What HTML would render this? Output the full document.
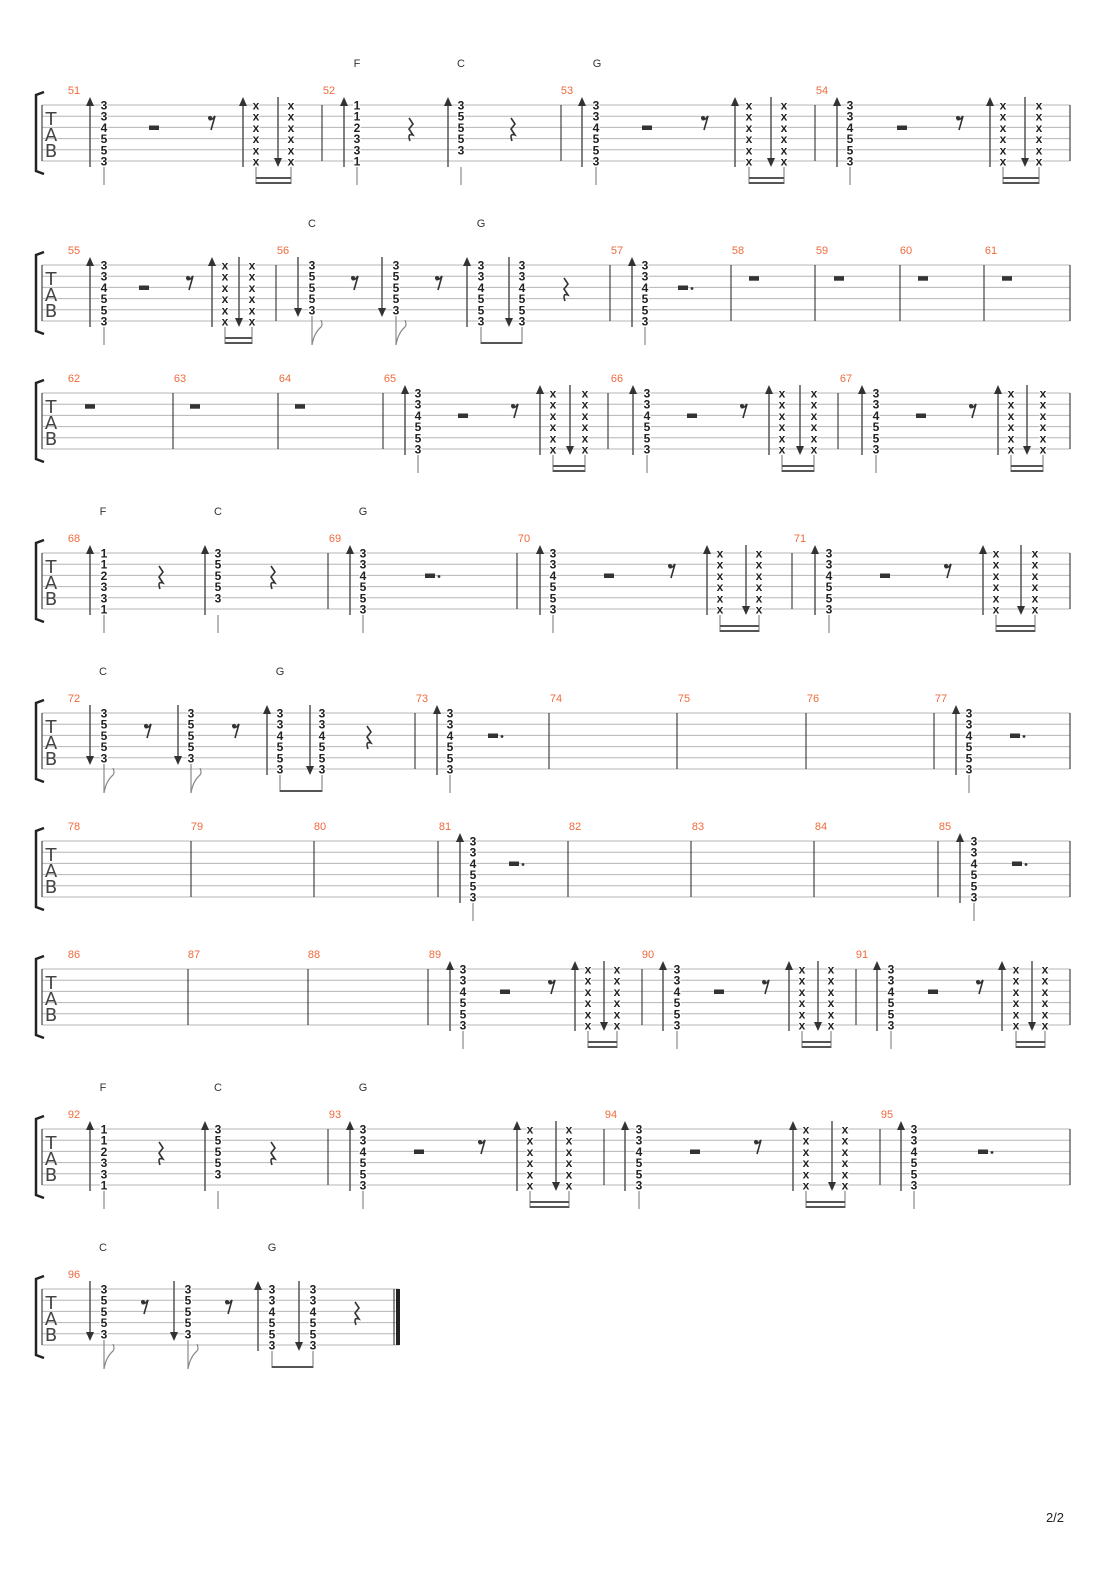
<!DOCTYPE html>
<html><head><meta charset="utf-8"><style>
html,body{margin:0;padding:0;background:#fff}
svg{display:block}
.d{font:bold 12px "Liberation Sans",sans-serif;fill:#222;text-anchor:middle;stroke:#fff;stroke-width:2.5px;paint-order:stroke}
.n{font:11px "Liberation Sans",sans-serif;fill:#ef6a3c;text-anchor:middle}
.c{font:11px "Liberation Sans",sans-serif;fill:#333;text-anchor:middle}
.t{font:18px "DejaVu Sans",sans-serif;fill:#444;text-anchor:middle}
.a{stroke:#555;stroke-width:1.5;fill:none}
.h{fill:#333}
.s{stroke:#888;stroke-width:1.2;fill:none}
.bm{stroke:#555;stroke-width:2;fill:none}
.ln{stroke:#b5b5b5;stroke-width:1;fill:none}
.bar{stroke:#222;stroke-width:1;fill:none}
.r{fill:#333}
.rs{stroke:#333;stroke-width:1.6;fill:none}
.br{stroke:#222;stroke-width:2.5;fill:none}
</style></head><body>
<svg width="1110" height="1570" viewBox="0 0 1110 1570" xmlns="http://www.w3.org/2000/svg">
<defs>
<g id="staff"><path class="ln" d="M42 0H1070M42 11.2H1070M42 22.4H1070M42 33.6H1070M42 44.8H1070M42 56H1070"/><path class="br" d="M44 -13L36 -10V66L44 69"/><path class="bar" d="M42 0V56M1070 0V56"/></g>
<g id="staffs"><path class="ln" d="M42 0H399M42 11.2H399M42 22.4H399M42 33.6H399M42 44.8H399M42 56H399"/><path class="br" d="M44 -13L36 -10V66L44 69"/><path class="bar" d="M42 0V56M394 0V56"/><path d="M396 0H400V56H396z" fill="#222"/></g>
<g id="up"><path class="a" d="M0 62V0"/><path class="h" d="M-4 1H4L0 -8z"/></g>
<g id="dn"><path class="a" d="M0 -8V60"/><path class="h" d="M-4 53H4L0 62z"/></g>
<g id="dnc"><path class="a" d="M0 -8V50"/><path class="h" d="M-4 43H4L0 52z"/></g>
<g id="stem"><path class="s" d="M0 62V80"/></g>
<g id="flag"><path class="s" d="M0 51V80M0 80Q2 68 9 62Q11 60 9 55"/></g>
<g id="half"><rect class="r" x="-5" y="20.5" width="10" height="4.5"/></g>
<g id="dhalf"><rect class="r" x="-5" y="20.5" width="10" height="4.5"/><circle class="r" cx="9" cy="23.5" r="1.4"/></g>
<g id="whole"><rect class="r" x="-5" y="11.2" width="10" height="4.5"/></g>
<g id="r8"><circle class="r" cx="-2" cy="13" r="2"/><path class="rs" d="M-3 14.5Q0 15.5 3 11L-1 25"/></g>
<g id="rq"><path class="rs" d="M-1 13L3 19L-1 24L3 30Q-3 28 0 36" stroke-width="2"/></g>
</defs>

<!-- SYSTEM 1 -->
<g transform="translate(0,105)">
<use href="#staff"/>
<text class="t" x="51" y="20">T</text><text class="t" x="51" y="36">A</text><text class="t" x="51" y="52">B</text>
<path class="bar" d="M322 0V56M561 0V56M815 0V56"/>
<text class="n" x="74" y="-11">51</text><text class="n" x="329" y="-11">52</text><text class="n" x="567" y="-11">53</text><text class="n" x="822" y="-11">54</text>
<text class="c" x="357" y="-38">F</text><text class="c" x="461" y="-38">C</text><text class="c" x="597" y="-38">G</text>
<use href="#up" x="90"/><text class="d" y="4.5"><tspan x="104">3</tspan><tspan x="104" dy="11.2">3</tspan><tspan x="104" dy="11.2">4</tspan><tspan x="104" dy="11.2">5</tspan><tspan x="104" dy="11.2">5</tspan><tspan x="104" dy="11.2">3</tspan></text><use href="#stem" x="104"/>
<use href="#half" x="154"/><use href="#r8" x="212"/>
<use href="#up" x="243"/><text class="d" y="4.5"><tspan x="256">x</tspan><tspan x="256" dy="11.2">x</tspan><tspan x="256" dy="11.2">x</tspan><tspan x="256" dy="11.2">x</tspan><tspan x="256" dy="11.2">x</tspan><tspan x="256" dy="11.2">x</tspan></text>
<use href="#dn" x="278"/><text class="d" y="4.5"><tspan x="291">x</tspan><tspan x="291" dy="11.2">x</tspan><tspan x="291" dy="11.2">x</tspan><tspan x="291" dy="11.2">x</tspan><tspan x="291" dy="11.2">x</tspan><tspan x="291" dy="11.2">x</tspan></text>
<path class="s" d="M256 62V79M291 62V79"/><path class="bm" d="M256 73H291M256 78H291"/>
<use href="#up" x="344"/><text class="d" y="4.5"><tspan x="357">1</tspan><tspan x="357" dy="11.2">1</tspan><tspan x="357" dy="11.2">2</tspan><tspan x="357" dy="11.2">3</tspan><tspan x="357" dy="11.2">3</tspan><tspan x="357" dy="11.2">1</tspan></text><use href="#stem" x="357"/>
<use href="#rq" x="410"/>
<use href="#up" x="448"/><text class="d" y="4.5"><tspan x="461">3</tspan><tspan x="461" dy="11.2">5</tspan><tspan x="461" dy="11.2">5</tspan><tspan x="461" dy="11.2">5</tspan><tspan x="461" dy="11.2">3</tspan></text><use href="#stem" x="461"/>
<use href="#rq" x="512"/>
<use href="#up" x="582"/><text class="d" y="4.5"><tspan x="596">3</tspan><tspan x="596" dy="11.2">3</tspan><tspan x="596" dy="11.2">4</tspan><tspan x="596" dy="11.2">5</tspan><tspan x="596" dy="11.2">5</tspan><tspan x="596" dy="11.2">3</tspan></text><use href="#stem" x="596"/>
<use href="#half" x="647"/><use href="#r8" x="705"/>
<use href="#up" x="735"/><text class="d" y="4.5"><tspan x="749">x</tspan><tspan x="749" dy="11.2">x</tspan><tspan x="749" dy="11.2">x</tspan><tspan x="749" dy="11.2">x</tspan><tspan x="749" dy="11.2">x</tspan><tspan x="749" dy="11.2">x</tspan></text>
<use href="#dn" x="771"/><text class="d" y="4.5"><tspan x="784">x</tspan><tspan x="784" dy="11.2">x</tspan><tspan x="784" dy="11.2">x</tspan><tspan x="784" dy="11.2">x</tspan><tspan x="784" dy="11.2">x</tspan><tspan x="784" dy="11.2">x</tspan></text>
<path class="s" d="M749 62V79M784 62V79"/><path class="bm" d="M749 73H784M749 78H784"/>
<use href="#up" x="837"/><text class="d" y="4.5"><tspan x="850">3</tspan><tspan x="850" dy="11.2">3</tspan><tspan x="850" dy="11.2">4</tspan><tspan x="850" dy="11.2">5</tspan><tspan x="850" dy="11.2">5</tspan><tspan x="850" dy="11.2">3</tspan></text><use href="#stem" x="850"/>
<use href="#half" x="902"/><use href="#r8" x="960"/>
<use href="#up" x="990"/><text class="d" y="4.5"><tspan x="1003">x</tspan><tspan x="1003" dy="11.2">x</tspan><tspan x="1003" dy="11.2">x</tspan><tspan x="1003" dy="11.2">x</tspan><tspan x="1003" dy="11.2">x</tspan><tspan x="1003" dy="11.2">x</tspan></text>
<use href="#dn" x="1025"/><text class="d" y="4.5"><tspan x="1039">x</tspan><tspan x="1039" dy="11.2">x</tspan><tspan x="1039" dy="11.2">x</tspan><tspan x="1039" dy="11.2">x</tspan><tspan x="1039" dy="11.2">x</tspan><tspan x="1039" dy="11.2">x</tspan></text>
<path class="s" d="M1003 62V79M1039 62V79"/><path class="bm" d="M1003 73H1039M1003 78H1039"/>
</g>

<!-- SYSTEM 2 -->
<g transform="translate(0,265)">
<use href="#staff"/>
<text class="t" x="51" y="20">T</text><text class="t" x="51" y="36">A</text><text class="t" x="51" y="52">B</text>
<path class="bar" d="M276 0V56M610 0V56M731 0V56M815 0V56M900 0V56M984 0V56"/>
<text class="n" x="74" y="-11">55</text><text class="n" x="283" y="-11">56</text><text class="n" x="617" y="-11">57</text><text class="n" x="738" y="-11">58</text><text class="n" x="822" y="-11">59</text><text class="n" x="906" y="-11">60</text><text class="n" x="991" y="-11">61</text>
<text class="c" x="312" y="-38">C</text><text class="c" x="481" y="-38">G</text>
<use href="#up" x="90"/><text class="d" y="4.5"><tspan x="104">3</tspan><tspan x="104" dy="11.2">3</tspan><tspan x="104" dy="11.2">4</tspan><tspan x="104" dy="11.2">5</tspan><tspan x="104" dy="11.2">5</tspan><tspan x="104" dy="11.2">3</tspan></text><use href="#stem" x="104"/>
<use href="#half" x="144"/><use href="#r8" x="190"/>
<use href="#up" x="212"/><text class="d" y="4.5"><tspan x="225">x</tspan><tspan x="225" dy="11.2">x</tspan><tspan x="225" dy="11.2">x</tspan><tspan x="225" dy="11.2">x</tspan><tspan x="225" dy="11.2">x</tspan><tspan x="225" dy="11.2">x</tspan></text>
<use href="#dn" x="239"/><text class="d" y="4.5"><tspan x="252">x</tspan><tspan x="252" dy="11.2">x</tspan><tspan x="252" dy="11.2">x</tspan><tspan x="252" dy="11.2">x</tspan><tspan x="252" dy="11.2">x</tspan><tspan x="252" dy="11.2">x</tspan></text>
<path class="s" d="M225 62V79M252 62V79"/><path class="bm" d="M225 73H252M225 78H252"/>
<use href="#dnc" x="298"/><text class="d" y="4.5"><tspan x="312">3</tspan><tspan x="312" dy="11.2">5</tspan><tspan x="312" dy="11.2">5</tspan><tspan x="312" dy="11.2">5</tspan><tspan x="312" dy="11.2">3</tspan></text><use href="#flag" x="312"/>
<use href="#r8" x="355"/>
<use href="#dnc" x="382"/><text class="d" y="4.5"><tspan x="396">3</tspan><tspan x="396" dy="11.2">5</tspan><tspan x="396" dy="11.2">5</tspan><tspan x="396" dy="11.2">5</tspan><tspan x="396" dy="11.2">3</tspan></text><use href="#flag" x="396"/>
<use href="#r8" x="439"/>
<use href="#up" x="467"/><text class="d" y="4.5"><tspan x="481">3</tspan><tspan x="481" dy="11.2">3</tspan><tspan x="481" dy="11.2">4</tspan><tspan x="481" dy="11.2">5</tspan><tspan x="481" dy="11.2">5</tspan><tspan x="481" dy="11.2">3</tspan></text>
<use href="#dn" x="509"/><text class="d" y="4.5"><tspan x="522">3</tspan><tspan x="522" dy="11.2">3</tspan><tspan x="522" dy="11.2">4</tspan><tspan x="522" dy="11.2">5</tspan><tspan x="522" dy="11.2">5</tspan><tspan x="522" dy="11.2">3</tspan></text>
<path class="s" d="M481 62V79M522 62V79"/><path class="bm" d="M481 78H522"/>
<use href="#rq" x="565"/>
<use href="#up" x="632"/><text class="d" y="4.5"><tspan x="645">3</tspan><tspan x="645" dy="11.2">3</tspan><tspan x="645" dy="11.2">4</tspan><tspan x="645" dy="11.2">5</tspan><tspan x="645" dy="11.2">5</tspan><tspan x="645" dy="11.2">3</tspan></text><use href="#stem" x="645"/>
<use href="#dhalf" x="683"/>
<use href="#whole" x="754"/><use href="#whole" x="839"/><use href="#whole" x="923"/><use href="#whole" x="1007"/>
</g>

<!-- SYSTEM 3 -->
<g transform="translate(0,393)">
<use href="#staff"/>
<text class="t" x="51" y="20">T</text><text class="t" x="51" y="36">A</text><text class="t" x="51" y="52">B</text>
<path class="bar" d="M173 0V56M278 0V56M383 0V56M608 0V56M838 0V56"/>
<text class="n" x="74" y="-11">62</text><text class="n" x="180" y="-11">63</text><text class="n" x="285" y="-11">64</text><text class="n" x="390" y="-11">65</text><text class="n" x="617" y="-11">66</text><text class="n" x="846" y="-11">67</text>
<use href="#whole" x="90"/><use href="#whole" x="195"/><use href="#whole" x="300"/>
<use href="#up" x="405"/><text class="d" y="4.5"><tspan x="418">3</tspan><tspan x="418" dy="11.2">3</tspan><tspan x="418" dy="11.2">4</tspan><tspan x="418" dy="11.2">5</tspan><tspan x="418" dy="11.2">5</tspan><tspan x="418" dy="11.2">3</tspan></text><use href="#stem" x="418"/>
<use href="#half" x="463"/><use href="#r8" x="515"/>
<use href="#up" x="540"/><text class="d" y="4.5"><tspan x="553">x</tspan><tspan x="553" dy="11.2">x</tspan><tspan x="553" dy="11.2">x</tspan><tspan x="553" dy="11.2">x</tspan><tspan x="553" dy="11.2">x</tspan><tspan x="553" dy="11.2">x</tspan></text>
<use href="#dn" x="570"/><text class="d" y="4.5"><tspan x="585">x</tspan><tspan x="585" dy="11.2">x</tspan><tspan x="585" dy="11.2">x</tspan><tspan x="585" dy="11.2">x</tspan><tspan x="585" dy="11.2">x</tspan><tspan x="585" dy="11.2">x</tspan></text>
<path class="s" d="M553 62V79M585 62V79"/><path class="bm" d="M553 73H585M553 78H585"/>
<use href="#up" x="633"/><text class="d" y="4.5"><tspan x="647">3</tspan><tspan x="647" dy="11.2">3</tspan><tspan x="647" dy="11.2">4</tspan><tspan x="647" dy="11.2">5</tspan><tspan x="647" dy="11.2">5</tspan><tspan x="647" dy="11.2">3</tspan></text><use href="#stem" x="647"/>
<use href="#half" x="692"/><use href="#r8" x="744"/>
<use href="#up" x="769"/><text class="d" y="4.5"><tspan x="782">x</tspan><tspan x="782" dy="11.2">x</tspan><tspan x="782" dy="11.2">x</tspan><tspan x="782" dy="11.2">x</tspan><tspan x="782" dy="11.2">x</tspan><tspan x="782" dy="11.2">x</tspan></text>
<use href="#dn" x="800"/><text class="d" y="4.5"><tspan x="814">x</tspan><tspan x="814" dy="11.2">x</tspan><tspan x="814" dy="11.2">x</tspan><tspan x="814" dy="11.2">x</tspan><tspan x="814" dy="11.2">x</tspan><tspan x="814" dy="11.2">x</tspan></text>
<path class="s" d="M782 62V79M814 62V79"/><path class="bm" d="M782 73H814M782 78H814"/>
<use href="#up" x="862"/><text class="d" y="4.5"><tspan x="876">3</tspan><tspan x="876" dy="11.2">3</tspan><tspan x="876" dy="11.2">4</tspan><tspan x="876" dy="11.2">5</tspan><tspan x="876" dy="11.2">5</tspan><tspan x="876" dy="11.2">3</tspan></text><use href="#stem" x="876"/>
<use href="#half" x="921"/><use href="#r8" x="973"/>
<use href="#up" x="998"/><text class="d" y="4.5"><tspan x="1011">x</tspan><tspan x="1011" dy="11.2">x</tspan><tspan x="1011" dy="11.2">x</tspan><tspan x="1011" dy="11.2">x</tspan><tspan x="1011" dy="11.2">x</tspan><tspan x="1011" dy="11.2">x</tspan></text>
<use href="#dn" x="1027"/><text class="d" y="4.5"><tspan x="1043">x</tspan><tspan x="1043" dy="11.2">x</tspan><tspan x="1043" dy="11.2">x</tspan><tspan x="1043" dy="11.2">x</tspan><tspan x="1043" dy="11.2">x</tspan><tspan x="1043" dy="11.2">x</tspan></text>
<path class="s" d="M1011 62V79M1043 62V79"/><path class="bm" d="M1011 73H1043M1011 78H1043"/>
</g>

<!-- SYSTEM 4 -->
<g transform="translate(0,553)">
<use href="#staff"/>
<text class="t" x="51" y="20">T</text><text class="t" x="51" y="36">A</text><text class="t" x="51" y="52">B</text>
<path class="bar" d="M328 0V56M517 0V56M792 0V56"/>
<text class="n" x="74" y="-11">68</text><text class="n" x="335" y="-11">69</text><text class="n" x="524" y="-11">70</text><text class="n" x="800" y="-11">71</text>
<text class="c" x="103" y="-38">F</text><text class="c" x="218" y="-38">C</text><text class="c" x="363" y="-38">G</text>
<use href="#up" x="90"/><text class="d" y="4.5"><tspan x="104">1</tspan><tspan x="104" dy="11.2">1</tspan><tspan x="104" dy="11.2">2</tspan><tspan x="104" dy="11.2">3</tspan><tspan x="104" dy="11.2">3</tspan><tspan x="104" dy="11.2">1</tspan></text><use href="#stem" x="104"/>
<use href="#rq" x="160"/>
<use href="#up" x="205"/><text class="d" y="4.5"><tspan x="218">3</tspan><tspan x="218" dy="11.2">5</tspan><tspan x="218" dy="11.2">5</tspan><tspan x="218" dy="11.2">5</tspan><tspan x="218" dy="11.2">3</tspan></text><use href="#stem" x="218"/>
<use href="#rq" x="272"/>
<use href="#up" x="350"/><text class="d" y="4.5"><tspan x="363">3</tspan><tspan x="363" dy="11.2">3</tspan><tspan x="363" dy="11.2">4</tspan><tspan x="363" dy="11.2">5</tspan><tspan x="363" dy="11.2">5</tspan><tspan x="363" dy="11.2">3</tspan></text><use href="#stem" x="363"/>
<use href="#dhalf" x="430"/>
<use href="#up" x="540"/><text class="d" y="4.5"><tspan x="553">3</tspan><tspan x="553" dy="11.2">3</tspan><tspan x="553" dy="11.2">4</tspan><tspan x="553" dy="11.2">5</tspan><tspan x="553" dy="11.2">5</tspan><tspan x="553" dy="11.2">3</tspan></text><use href="#stem" x="553"/>
<use href="#half" x="609"/><use href="#r8" x="672"/>
<use href="#up" x="707"/><text class="d" y="4.5"><tspan x="720">x</tspan><tspan x="720" dy="11.2">x</tspan><tspan x="720" dy="11.2">x</tspan><tspan x="720" dy="11.2">x</tspan><tspan x="720" dy="11.2">x</tspan><tspan x="720" dy="11.2">x</tspan></text>
<use href="#dn" x="746"/><text class="d" y="4.5"><tspan x="759">x</tspan><tspan x="759" dy="11.2">x</tspan><tspan x="759" dy="11.2">x</tspan><tspan x="759" dy="11.2">x</tspan><tspan x="759" dy="11.2">x</tspan><tspan x="759" dy="11.2">x</tspan></text>
<path class="s" d="M720 62V79M759 62V79"/><path class="bm" d="M720 73H759M720 78H759"/>
<use href="#up" x="815"/><text class="d" y="4.5"><tspan x="829">3</tspan><tspan x="829" dy="11.2">3</tspan><tspan x="829" dy="11.2">4</tspan><tspan x="829" dy="11.2">5</tspan><tspan x="829" dy="11.2">5</tspan><tspan x="829" dy="11.2">3</tspan></text><use href="#stem" x="829"/>
<use href="#half" x="885"/><use href="#r8" x="948"/>
<use href="#up" x="983"/><text class="d" y="4.5"><tspan x="996">x</tspan><tspan x="996" dy="11.2">x</tspan><tspan x="996" dy="11.2">x</tspan><tspan x="996" dy="11.2">x</tspan><tspan x="996" dy="11.2">x</tspan><tspan x="996" dy="11.2">x</tspan></text>
<use href="#dn" x="1021"/><text class="d" y="4.5"><tspan x="1035">x</tspan><tspan x="1035" dy="11.2">x</tspan><tspan x="1035" dy="11.2">x</tspan><tspan x="1035" dy="11.2">x</tspan><tspan x="1035" dy="11.2">x</tspan><tspan x="1035" dy="11.2">x</tspan></text>
<path class="s" d="M996 62V79M1035 62V79"/><path class="bm" d="M996 73H1035M996 78H1035"/>
</g>

<!-- SYSTEM 5 -->
<g transform="translate(0,713)">
<use href="#staff"/>
<text class="t" x="51" y="20">T</text><text class="t" x="51" y="36">A</text><text class="t" x="51" y="52">B</text>
<path class="bar" d="M415 0V56M549 0V56M677 0V56M806 0V56M934 0V56"/>
<text class="n" x="74" y="-11">72</text><text class="n" x="422" y="-11">73</text><text class="n" x="556" y="-11">74</text><text class="n" x="684" y="-11">75</text><text class="n" x="813" y="-11">76</text><text class="n" x="941" y="-11">77</text>
<text class="c" x="103" y="-38">C</text><text class="c" x="280" y="-38">G</text>
<use href="#dnc" x="90"/><text class="d" y="4.5"><tspan x="104">3</tspan><tspan x="104" dy="11.2">5</tspan><tspan x="104" dy="11.2">5</tspan><tspan x="104" dy="11.2">5</tspan><tspan x="104" dy="11.2">3</tspan></text><use href="#flag" x="104"/>
<use href="#r8" x="148"/>
<use href="#dnc" x="178"/><text class="d" y="4.5"><tspan x="191">3</tspan><tspan x="191" dy="11.2">5</tspan><tspan x="191" dy="11.2">5</tspan><tspan x="191" dy="11.2">5</tspan><tspan x="191" dy="11.2">3</tspan></text><use href="#flag" x="191"/>
<use href="#r8" x="236"/>
<use href="#up" x="267"/><text class="d" y="4.5"><tspan x="280">3</tspan><tspan x="280" dy="11.2">3</tspan><tspan x="280" dy="11.2">4</tspan><tspan x="280" dy="11.2">5</tspan><tspan x="280" dy="11.2">5</tspan><tspan x="280" dy="11.2">3</tspan></text>
<use href="#dn" x="310"/><text class="d" y="4.5"><tspan x="322">3</tspan><tspan x="322" dy="11.2">3</tspan><tspan x="322" dy="11.2">4</tspan><tspan x="322" dy="11.2">5</tspan><tspan x="322" dy="11.2">5</tspan><tspan x="322" dy="11.2">3</tspan></text>
<path class="s" d="M280 62V79M322 62V79"/><path class="bm" d="M280 78H322"/>
<use href="#rq" x="368"/>
<use href="#up" x="437"/><text class="d" y="4.5"><tspan x="450">3</tspan><tspan x="450" dy="11.2">3</tspan><tspan x="450" dy="11.2">4</tspan><tspan x="450" dy="11.2">5</tspan><tspan x="450" dy="11.2">5</tspan><tspan x="450" dy="11.2">3</tspan></text><use href="#stem" x="450"/>
<use href="#dhalf" x="493"/>
<use href="#up" x="956"/><text class="d" y="4.5"><tspan x="969">3</tspan><tspan x="969" dy="11.2">3</tspan><tspan x="969" dy="11.2">4</tspan><tspan x="969" dy="11.2">5</tspan><tspan x="969" dy="11.2">5</tspan><tspan x="969" dy="11.2">3</tspan></text><use href="#stem" x="969"/>
<use href="#dhalf" x="1015"/>
</g>

<!-- SYSTEM 6 -->
<g transform="translate(0,841)">
<use href="#staff"/>
<text class="t" x="51" y="20">T</text><text class="t" x="51" y="36">A</text><text class="t" x="51" y="52">B</text>
<path class="bar" d="M191 0V56M314 0V56M438 0V56M568 0V56M691 0V56M814 0V56M938 0V56"/>
<text class="n" x="74" y="-11">78</text><text class="n" x="197" y="-11">79</text><text class="n" x="320" y="-11">80</text><text class="n" x="445" y="-11">81</text><text class="n" x="575" y="-11">82</text><text class="n" x="698" y="-11">83</text><text class="n" x="821" y="-11">84</text><text class="n" x="945" y="-11">85</text>
<use href="#up" x="460"/><text class="d" y="4.5"><tspan x="473">3</tspan><tspan x="473" dy="11.2">3</tspan><tspan x="473" dy="11.2">4</tspan><tspan x="473" dy="11.2">5</tspan><tspan x="473" dy="11.2">5</tspan><tspan x="473" dy="11.2">3</tspan></text><use href="#stem" x="473"/>
<use href="#dhalf" x="514"/>
<use href="#up" x="960"/><text class="d" y="4.5"><tspan x="974">3</tspan><tspan x="974" dy="11.2">3</tspan><tspan x="974" dy="11.2">4</tspan><tspan x="974" dy="11.2">5</tspan><tspan x="974" dy="11.2">5</tspan><tspan x="974" dy="11.2">3</tspan></text><use href="#stem" x="974"/>
<use href="#dhalf" x="1017"/>
</g>

<!-- SYSTEM 7 -->
<g transform="translate(0,969)">
<use href="#staff"/>
<text class="t" x="51" y="20">T</text><text class="t" x="51" y="36">A</text><text class="t" x="51" y="52">B</text>
<path class="bar" d="M188 0V56M308 0V56M428 0V56M642 0V56M856 0V56"/>
<text class="n" x="74" y="-11">86</text><text class="n" x="194" y="-11">87</text><text class="n" x="314" y="-11">88</text><text class="n" x="435" y="-11">89</text><text class="n" x="648" y="-11">90</text><text class="n" x="862" y="-11">91</text>
<use href="#up" x="450"/><text class="d" y="4.5"><tspan x="463">3</tspan><tspan x="463" dy="11.2">3</tspan><tspan x="463" dy="11.2">4</tspan><tspan x="463" dy="11.2">5</tspan><tspan x="463" dy="11.2">5</tspan><tspan x="463" dy="11.2">3</tspan></text><use href="#stem" x="463"/>
<use href="#half" x="505"/><use href="#r8" x="552"/>
<use href="#up" x="575"/><text class="d" y="4.5"><tspan x="588">x</tspan><tspan x="588" dy="11.2">x</tspan><tspan x="588" dy="11.2">x</tspan><tspan x="588" dy="11.2">x</tspan><tspan x="588" dy="11.2">x</tspan><tspan x="588" dy="11.2">x</tspan></text>
<use href="#dn" x="604"/><text class="d" y="4.5"><tspan x="617">x</tspan><tspan x="617" dy="11.2">x</tspan><tspan x="617" dy="11.2">x</tspan><tspan x="617" dy="11.2">x</tspan><tspan x="617" dy="11.2">x</tspan><tspan x="617" dy="11.2">x</tspan></text>
<path class="s" d="M588 62V79M617 62V79"/><path class="bm" d="M588 73H617M588 78H617"/>
<use href="#up" x="663"/><text class="d" y="4.5"><tspan x="677">3</tspan><tspan x="677" dy="11.2">3</tspan><tspan x="677" dy="11.2">4</tspan><tspan x="677" dy="11.2">5</tspan><tspan x="677" dy="11.2">5</tspan><tspan x="677" dy="11.2">3</tspan></text><use href="#stem" x="677"/>
<use href="#half" x="719"/><use href="#r8" x="766"/>
<use href="#up" x="789"/><text class="d" y="4.5"><tspan x="802">x</tspan><tspan x="802" dy="11.2">x</tspan><tspan x="802" dy="11.2">x</tspan><tspan x="802" dy="11.2">x</tspan><tspan x="802" dy="11.2">x</tspan><tspan x="802" dy="11.2">x</tspan></text>
<use href="#dn" x="818"/><text class="d" y="4.5"><tspan x="831">x</tspan><tspan x="831" dy="11.2">x</tspan><tspan x="831" dy="11.2">x</tspan><tspan x="831" dy="11.2">x</tspan><tspan x="831" dy="11.2">x</tspan><tspan x="831" dy="11.2">x</tspan></text>
<path class="s" d="M802 62V79M831 62V79"/><path class="bm" d="M802 73H831M802 78H831"/>
<use href="#up" x="877"/><text class="d" y="4.5"><tspan x="891">3</tspan><tspan x="891" dy="11.2">3</tspan><tspan x="891" dy="11.2">4</tspan><tspan x="891" dy="11.2">5</tspan><tspan x="891" dy="11.2">5</tspan><tspan x="891" dy="11.2">3</tspan></text><use href="#stem" x="891"/>
<use href="#half" x="933"/><use href="#r8" x="980"/>
<use href="#up" x="1002"/><text class="d" y="4.5"><tspan x="1016">x</tspan><tspan x="1016" dy="11.2">x</tspan><tspan x="1016" dy="11.2">x</tspan><tspan x="1016" dy="11.2">x</tspan><tspan x="1016" dy="11.2">x</tspan><tspan x="1016" dy="11.2">x</tspan></text>
<use href="#dn" x="1032"/><text class="d" y="4.5"><tspan x="1045">x</tspan><tspan x="1045" dy="11.2">x</tspan><tspan x="1045" dy="11.2">x</tspan><tspan x="1045" dy="11.2">x</tspan><tspan x="1045" dy="11.2">x</tspan><tspan x="1045" dy="11.2">x</tspan></text>
<path class="s" d="M1016 62V79M1045 62V79"/><path class="bm" d="M1016 73H1045M1016 78H1045"/>
</g>

<!-- SYSTEM 8 -->
<g transform="translate(0,1129)">
<use href="#staff"/>
<text class="t" x="51" y="20">T</text><text class="t" x="51" y="36">A</text><text class="t" x="51" y="52">B</text>
<path class="bar" d="M328 0V56M604 0V56M880 0V56"/>
<text class="n" x="74" y="-11">92</text><text class="n" x="335" y="-11">93</text><text class="n" x="611" y="-11">94</text><text class="n" x="887" y="-11">95</text>
<text class="c" x="103" y="-38">F</text><text class="c" x="218" y="-38">C</text><text class="c" x="363" y="-38">G</text>
<use href="#up" x="90"/><text class="d" y="4.5"><tspan x="104">1</tspan><tspan x="104" dy="11.2">1</tspan><tspan x="104" dy="11.2">2</tspan><tspan x="104" dy="11.2">3</tspan><tspan x="104" dy="11.2">3</tspan><tspan x="104" dy="11.2">1</tspan></text><use href="#stem" x="104"/>
<use href="#rq" x="160"/>
<use href="#up" x="205"/><text class="d" y="4.5"><tspan x="218">3</tspan><tspan x="218" dy="11.2">5</tspan><tspan x="218" dy="11.2">5</tspan><tspan x="218" dy="11.2">5</tspan><tspan x="218" dy="11.2">3</tspan></text><use href="#stem" x="218"/>
<use href="#rq" x="272"/>
<use href="#up" x="350"/><text class="d" y="4.5"><tspan x="363">3</tspan><tspan x="363" dy="11.2">3</tspan><tspan x="363" dy="11.2">4</tspan><tspan x="363" dy="11.2">5</tspan><tspan x="363" dy="11.2">5</tspan><tspan x="363" dy="11.2">3</tspan></text><use href="#stem" x="363"/>
<use href="#half" x="419"/><use href="#r8" x="482"/>
<use href="#up" x="517"/><text class="d" y="4.5"><tspan x="530">x</tspan><tspan x="530" dy="11.2">x</tspan><tspan x="530" dy="11.2">x</tspan><tspan x="530" dy="11.2">x</tspan><tspan x="530" dy="11.2">x</tspan><tspan x="530" dy="11.2">x</tspan></text>
<use href="#dn" x="556"/><text class="d" y="4.5"><tspan x="569">x</tspan><tspan x="569" dy="11.2">x</tspan><tspan x="569" dy="11.2">x</tspan><tspan x="569" dy="11.2">x</tspan><tspan x="569" dy="11.2">x</tspan><tspan x="569" dy="11.2">x</tspan></text>
<path class="s" d="M530 62V79M569 62V79"/><path class="bm" d="M530 73H569M530 78H569"/>
<use href="#up" x="625"/><text class="d" y="4.5"><tspan x="639">3</tspan><tspan x="639" dy="11.2">3</tspan><tspan x="639" dy="11.2">4</tspan><tspan x="639" dy="11.2">5</tspan><tspan x="639" dy="11.2">5</tspan><tspan x="639" dy="11.2">3</tspan></text><use href="#stem" x="639"/>
<use href="#half" x="695"/><use href="#r8" x="758"/>
<use href="#up" x="793"/><text class="d" y="4.5"><tspan x="806">x</tspan><tspan x="806" dy="11.2">x</tspan><tspan x="806" dy="11.2">x</tspan><tspan x="806" dy="11.2">x</tspan><tspan x="806" dy="11.2">x</tspan><tspan x="806" dy="11.2">x</tspan></text>
<use href="#dn" x="832"/><text class="d" y="4.5"><tspan x="845">x</tspan><tspan x="845" dy="11.2">x</tspan><tspan x="845" dy="11.2">x</tspan><tspan x="845" dy="11.2">x</tspan><tspan x="845" dy="11.2">x</tspan><tspan x="845" dy="11.2">x</tspan></text>
<path class="s" d="M806 62V79M845 62V79"/><path class="bm" d="M806 73H845M806 78H845"/>
<use href="#up" x="901"/><text class="d" y="4.5"><tspan x="914">3</tspan><tspan x="914" dy="11.2">3</tspan><tspan x="914" dy="11.2">4</tspan><tspan x="914" dy="11.2">5</tspan><tspan x="914" dy="11.2">5</tspan><tspan x="914" dy="11.2">3</tspan></text><use href="#stem" x="914"/>
<use href="#dhalf" x="983"/>
</g>

<!-- SYSTEM 9 -->
<g transform="translate(0,1289)">
<use href="#staffs"/>
<text class="t" x="51" y="20">T</text><text class="t" x="51" y="36">A</text><text class="t" x="51" y="52">B</text>
<text class="n" x="74" y="-11">96</text>
<text class="c" x="103" y="-38">C</text><text class="c" x="272" y="-38">G</text>
<use href="#dnc" x="90"/><text class="d" y="4.5"><tspan x="104">3</tspan><tspan x="104" dy="11.2">5</tspan><tspan x="104" dy="11.2">5</tspan><tspan x="104" dy="11.2">5</tspan><tspan x="104" dy="11.2">3</tspan></text><use href="#flag" x="104"/>
<use href="#r8" x="145"/>
<use href="#dnc" x="174"/><text class="d" y="4.5"><tspan x="188">3</tspan><tspan x="188" dy="11.2">5</tspan><tspan x="188" dy="11.2">5</tspan><tspan x="188" dy="11.2">5</tspan><tspan x="188" dy="11.2">3</tspan></text><use href="#flag" x="188"/>
<use href="#r8" x="229"/>
<use href="#up" x="258"/><text class="d" y="4.5"><tspan x="272">3</tspan><tspan x="272" dy="11.2">3</tspan><tspan x="272" dy="11.2">4</tspan><tspan x="272" dy="11.2">5</tspan><tspan x="272" dy="11.2">5</tspan><tspan x="272" dy="11.2">3</tspan></text>
<use href="#dn" x="299"/><text class="d" y="4.5"><tspan x="313">3</tspan><tspan x="313" dy="11.2">3</tspan><tspan x="313" dy="11.2">4</tspan><tspan x="313" dy="11.2">5</tspan><tspan x="313" dy="11.2">5</tspan><tspan x="313" dy="11.2">3</tspan></text>
<path class="s" d="M272 62V79M313 62V79"/><path class="bm" d="M272 78H313"/>
<use href="#rq" x="356"/>
</g>

<text x="1055" y="1522" style="font:13px 'Liberation Sans',sans-serif;fill:#222" text-anchor="middle">2/2</text>
</svg>
</body></html>
